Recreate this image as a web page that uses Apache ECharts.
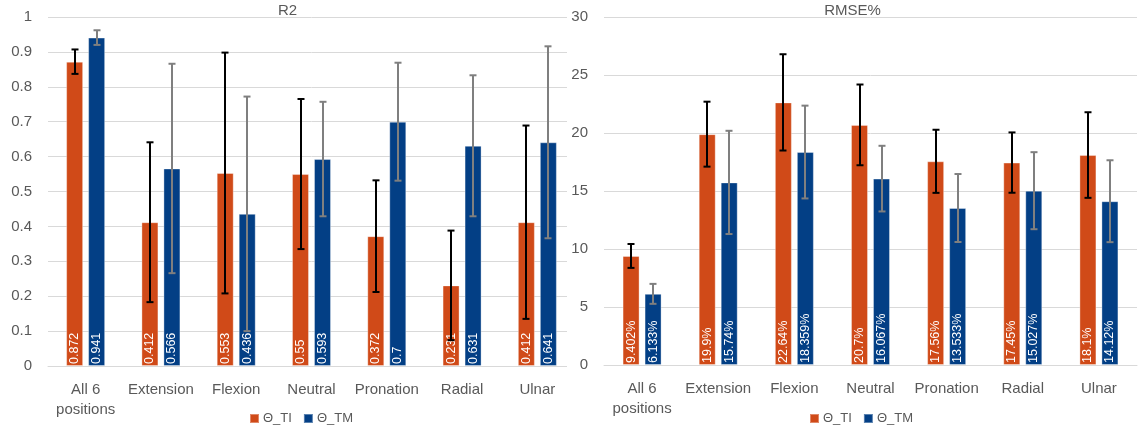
<!DOCTYPE html>
<html>
<head>
<meta charset="utf-8">
<script src="https://cdn.jsdelivr.net/npm/echarts@6/dist/echarts.min.js"></script>
<style>
  html, body { margin: 0; padding: 0; background: #fff; }
  #wrap { position: relative; width: 1138px; height: 431px; overflow: hidden; }
  #r2 { position: absolute; left: 0; top: 0; width: 575px; height: 431px; }
  #rmse { position: absolute; left: 567px; top: 0; width: 571px; height: 431px; background: #fff; z-index: 2; }
</style>
</head>
<body>
<div id="wrap">
  <div id="r2"></div>
  <div id="rmse"></div>
</div>
<script>
// Wrist positions
const categories = ['All 6\npositions', 'Extension', 'Flexion', 'Neutral', 'Pronation', 'Radial', 'Ulnar'];
const seriesNames = ['\u0398_TI', '\u0398_TM'];

// R2 means and standard deviations
const r2TI = [0.872, 0.412, 0.553, 0.55, 0.372, 0.231, 0.412];
const r2TM = [0.941, 0.566, 0.436, 0.593, 0.7, 0.631, 0.641];
const r2TIErr = [0.035, 0.229, 0.345, 0.215, 0.16, 0.157, 0.277];
const r2TMErr = [0.021, 0.30, 0.336, 0.164, 0.169, 0.202, 0.275];

// RMSE% means and standard deviations
const rmseTI = [9.402, 19.9, 22.64, 20.7, 17.56, 17.45, 18.1];
const rmseTM = [6.133, 15.74, 18.359, 16.067, 13.533, 15.027, 14.12];
const rmseTIErr = [1.03, 2.8, 4.15, 3.48, 2.72, 2.6, 3.69];
const rmseTMErr = [0.86, 4.45, 4.0, 2.83, 2.93, 3.32, 3.53];

// Value axis ranges
const r2Axis = { min: 0, max: 1, interval: 0.1 };
const rmseAxis = { min: 0, max: 30, interval: 5 };

const ORANGE = '#D04A18';
const BLUE = '#033F85';
const TEXT = '#595959';
const GRID = '#D9D9D9';
const FONT = '"Liberation Sans", Arial, sans-serif';
const BAR_W = 17;
const BAR_GAP = 5;
const OFFSET = (BAR_W + BAR_GAP) / 2;

function errorData(mean, err) {
  return mean.map((v, i) => [i, v - err[i], v + err[i]]);
}

function errorSeries(mean, err, shift, color) {
  return {
    type: 'custom',
    name: 'err',
    z: 5,
    silent: true,
    data: errorData(mean, err),
    encode: { x: 0, y: [1, 2] },
    renderItem: function (params, api) {
      const lo = api.coord([api.value(0), api.value(1)]);
      const hi = api.coord([api.value(0), api.value(2)]);
      const cx = Math.round(lo[0] + shift);
      const cap = 3.5;
      const st = { stroke: color, lineWidth: 2 };
      return {
        type: 'group',
        children: [
          { type: 'line', shape: { x1: cx, y1: hi[1], x2: cx, y2: lo[1] }, style: st },
          { type: 'line', shape: { x1: cx - cap, y1: hi[1], x2: cx + cap, y2: hi[1] }, style: st },
          { type: 'line', shape: { x1: cx - cap, y1: lo[1], x2: cx + cap, y2: lo[1] }, style: st }
        ]
      };
    }
  };
}

function barSeries(name, data, color, fmt) {
  return {
    type: 'bar',
    name: name,
    data: data,
    barWidth: BAR_W,
    barGap: (BAR_GAP / BAR_W * 100) + '%',
    itemStyle: { color: color, borderColor: 'rgba(255,255,255,0.35)', borderWidth: 1 },
    label: {
      show: true,
      position: 'insideBottom',
      rotate: 90,
      align: 'left',
      verticalAlign: 'middle',
      distance: 2,
      color: '#fff',
      fontFamily: FONT,
      fontSize: 12.5,
      formatter: fmt
    }
  };
}

function buildOption(opts) {
  return {
    animation: false,
    title: {
      text: opts.title,
      left: 'center',
      top: 0,
      padding: [3, 5],
      textStyle: { color: TEXT, fontFamily: FONT, fontSize: 15, fontWeight: 'normal' }
    },
    legend: {
      data: seriesNames,
      left: opts.legendLeft,
      top: 407,
      icon: 'rect',
      itemWidth: 9,
      itemHeight: 9,
      itemGap: 11,
      textStyle: { color: TEXT, fontFamily: FONT, fontSize: 13, padding: [0, 0, 0, -1] }
    },
    grid: { left: opts.gridLeft, right: opts.gridRight, top: 17, bottom: opts.gridBottom },
    xAxis: {
      type: 'category',
      data: categories,
      axisTick: { show: false },
      axisLine: { lineStyle: { color: GRID, width: 1 } },
      axisLabel: {
        color: TEXT, fontFamily: FONT, fontSize: 15, lineHeight: 20, margin: 14, interval: 0
      }
    },
    yAxis: {
      type: 'value',
      min: opts.axis.min,
      max: opts.axis.max,
      interval: opts.axis.interval,
      axisLine: { show: false },
      axisTick: { show: false },
      splitLine: { lineStyle: { color: GRID, width: 1 } },
      axisLabel: {
        color: TEXT, fontFamily: FONT, fontSize: 15, margin: 16,
        formatter: opts.tickFmt
      }
    },
    series: [
      barSeries(seriesNames[0], opts.ti, ORANGE, opts.labelFmt),
      barSeries(seriesNames[1], opts.tm, BLUE, opts.labelFmt),
      errorSeries(opts.ti, opts.tiErr, -OFFSET, '#000000'),
      errorSeries(opts.tm, opts.tmErr, OFFSET, '#7F7F7F')
    ]
  };
}

const r2Chart = echarts.init(document.getElementById('r2'), null, { renderer: 'canvas' });
r2Chart.setOption(buildOption({
  title: 'R2',
  legendLeft: 244,
  gridLeft: 48, gridRight: 0, gridBottom: 65,
  axis: r2Axis,
  ti: r2TI, tm: r2TM, tiErr: r2TIErr, tmErr: r2TMErr,
  tickFmt: v => String(+v.toFixed(1)),
  labelFmt: p => String(p.value)
}));

const rmseChart = echarts.init(document.getElementById('rmse'), null, { renderer: 'canvas' });
rmseChart.setOption(buildOption({
  title: 'RMSE%',
  legendLeft: 237,
  gridLeft: 37, gridRight: 1, gridBottom: 66,
  axis: rmseAxis,
  ti: rmseTI, tm: rmseTM, tiErr: rmseTIErr, tmErr: rmseTMErr,
  tickFmt: v => String(v),
  labelFmt: p => p.value + '%'
}));
</script>
</body>
</html>
